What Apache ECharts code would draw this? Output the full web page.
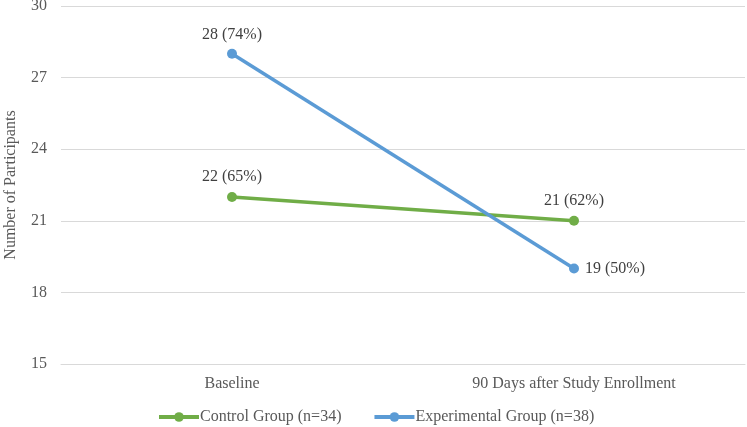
<!DOCTYPE html>
<html>
<head>
<meta charset="utf-8">
<script src="https://cdn.jsdelivr.net/npm/echarts@6/dist/echarts.min.js"></script>
<style>html,body{margin:0;padding:0;background:#fff}#c{width:747px;height:427px}</style>
</head>
<body>
<div id="c"></div>
<script>
const categories = ['Baseline', '90 Days after Study Enrollment'];
const controlValues = [22, 21];
const controlPct = ['65%', '62%'];
const experimentalValues = [28, 19];
const experimentalPct = ['74%', '50%'];
const yTicks = { min: 15, max: 30, interval: 3 };

const font = 'Liberation Serif, Times New Roman, serif';
const chart = echarts.init(document.getElementById('c'));
chart.setOption({
  animation: false,
  textStyle: { fontFamily: font },
  grid: { left: 61, right: 2, top: 6, bottom: 63, containLabel: false, outerBoundsMode: 'none' },
  xAxis: {
    type: 'category', data: categories, boundaryGap: true,
    axisLine: { show: true, lineStyle: { color: '#d9d9d9' } },
    axisTick: { show: false },
    axisLabel: { color: '#595959', fontSize: 16, fontFamily: font, margin: 12 }
  },
  yAxis: {
    type: 'value', min: yTicks.min, max: yTicks.max, interval: yTicks.interval,
    name: 'Number of Participants', nameLocation: 'middle', nameGap: 42,
    nameTextStyle: { color: '#595959', fontSize: 16, fontFamily: font },
    axisLine: { show: false }, axisTick: { show: false },
    axisLabel: { color: '#595959', fontSize: 16, fontFamily: font, margin: 14 },
    splitLine: { lineStyle: { color: '#d9d9d9', width: 1 } }
  },
  legend: {
    top: 409, left: 157, padding: 0, itemGap: 31, itemWidth: 40, itemHeight: 12,
    lineStyle: { width: 4 },
    textStyle: { color: '#595959', fontSize: 16, fontFamily: font, padding: [0, 0, 0, -4] },
    data: ['Control Group (n=34)', 'Experimental Group (n=38)']
  },
  series: [
    {
      name: 'Control Group (n=34)', type: 'line',
      symbol: 'circle', symbolSize: 10,
      lineStyle: { color: '#70AD47', width: 3.5 },
      itemStyle: { color: '#70AD47' },
      label: {
        show: true, position: 'top', distance: 7, color: '#404040', fontSize: 16, fontFamily: font,
        formatter: p => p.value + ' (' + controlPct[p.dataIndex] + ')'
      },
      data: controlValues
    },
    {
      name: 'Experimental Group (n=38)', type: 'line',
      symbol: 'circle', symbolSize: 10,
      lineStyle: { color: '#5B9BD5', width: 3.5 },
      itemStyle: { color: '#5B9BD5' },
      label: {
        show: true, color: '#404040', fontSize: 16, fontFamily: font,
        formatter: p => p.value + ' (' + experimentalPct[p.dataIndex] + ')'
      },
      data: experimentalValues.map((v, i) => ({
        value: v,
        label: i === 0 ? { position: 'top', distance: 6 } : { position: 'right', distance: 6 }
      }))
    }
  ]
});
</script>
</body>
</html>
